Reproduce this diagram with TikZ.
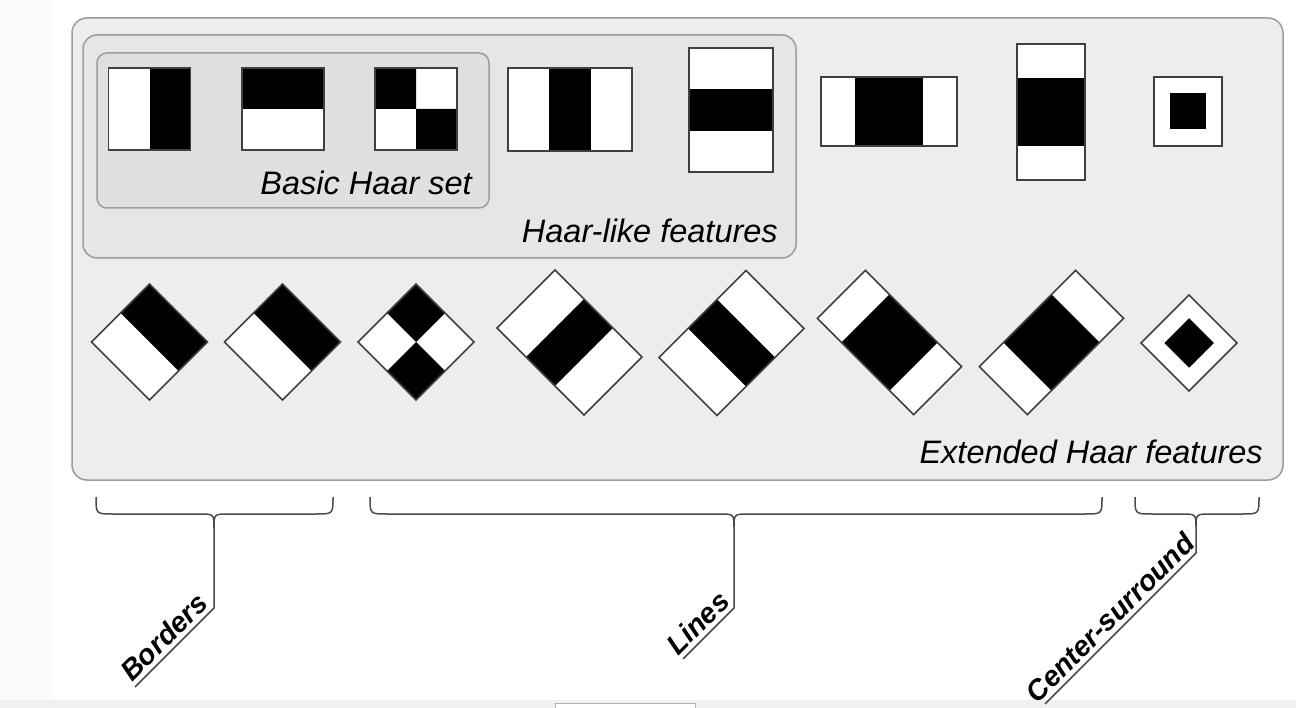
\documentclass[tikz,border=0pt]{standalone}
\usepackage{fontspec}
\setmainfont{Liberation Sans}
\definecolor{outerfill}{HTML}{EDEDED}
\definecolor{midfill}{HTML}{E6E6E6}
\definecolor{innerfill}{HTML}{E0E0E0}
\definecolor{panelline}{HTML}{9C9C9C}
\definecolor{featline}{HTML}{404040}
\definecolor{braceline}{HTML}{4A4A4A}
\tikzset{%
    feat/.style={draw=featline,line width=1.6pt},
    panel/.style={draw=panelline,line width=1.5pt,rounded corners=15pt}
}
% one feature: centre x, centre y, rotation, half width, half height, black part
\newcommand{\haar}[6]{%
    \begin{scope}[shift={(#1,#2)},rotate=#3]
        \fill[white] (-#4,-#5) rectangle (#4,#5);
        \fill[black] #6;
        \draw[feat] (-#4,-#5) rectangle (#4,#5);
    \end{scope}}

\begin{document}
\begin{tikzpicture}[
            x=1pt,y=-1pt,
            brace/.style={draw=braceline,line width=1.5pt},
            setlabel/.style={font=\fontsize{32.5}{39}\selectfont\itshape,inner sep=0pt},
            grplabel/.style={font=\fontsize{28.5}{34}\selectfont\bfseries\itshape,inner sep=4pt,anchor=south,rotate=45}
            ]
            \useasboundingbox (0,0) rectangle (1296,708);
            \fill[white] (0,0) rectangle (1296,708);
            \fill[black!2] (0,0) rectangle (53,700);
            \fill[black!6] (0,700) rectangle (1296,708);
            \draw[black!30,fill=white] (555,703) rectangle (695,712);

            % panels
            \draw[panel,fill=outerfill] (72,18) rectangle (1283,480);
            \draw[panel,fill=midfill,rounded corners=14pt] (83,35) rectangle (796,258);
            \draw[panel,fill=innerfill,rounded corners=10pt] (97,53) rectangle (489,208);
            \node[setlabel,anchor=base east] (basic) at (472,195) {Basic Haar set};
            \node[setlabel,anchor=base east] (haarlike) at (778,243) {Haar-like features};
            \node[setlabel,anchor=base east] (extended) at (1263,463) {Extended Haar features};

            % upright features
            \haar{149.5}{109}{0}{41}{41}{(0,-41) rectangle (41,41)}
            \haar{283}{109}{0}{41}{41}{(-41,-41) rectangle (41,0)}
            \haar{416}{109}{0}{41}{41}{(-41,-41) rectangle (0,0) (0,0) rectangle (41,41)}
            \haar{570}{109.5}{0}{62}{41.5}{(-20.7,-41.5) rectangle (20.7,41.5)}
            \haar{731}{110}{0}{42}{62}{(-42,-20.7) rectangle (42,20.7)}
            \haar{889}{111.5}{0}{68}{34.5}{(-34,-34.5) rectangle (34,34.5)}
            \haar{1051}{112}{0}{34}{68}{(-34,-34) rectangle (34,34)}
            \haar{1188}{111.5}{0}{34}{34.5}{(-18,-18) rectangle (18,18)}

            % rotated features
            \haar{149.5}{342}{45}{41}{41}{(0,-41) rectangle (41,41)}
            \haar{282.5}{342}{-45}{41}{41}{(-41,-41) rectangle (41,0)}
            \haar{416}{342}{-45}{41}{41}{(-41,-41) rectangle (0,0) (0,0) rectangle (41,41)}
            \haar{569.5}{342.5}{-45}{61.5}{41}{(-20.5,-41) rectangle (20.5,41)}
            \haar{731.5}{343}{45}{61.5}{41}{(-20.5,-41) rectangle (20.5,41)}
            \haar{889.5}{342.5}{-45}{68}{34}{(-34,-34) rectangle (34,34)}
            \haar{1051.5}{342.5}{45}{68}{34}{(-34,-34) rectangle (34,34)}
            \haar{1189}{343}{45}{34}{34}{(-17.5,-17.5) rectangle (17.5,17.5)}

            % braces
            \foreach \l/\c/\r/\n in {96/214/333/bord,370/734/1102/line,1135/1196/1259/cent}{
                \coordinate (\n C) at (\c,528);
                \draw[brace] (\l,497) .. controls (\l,514) .. (\l+17,514) -- (\c-15,514)
                    .. controls (\c,514) .. (\n C) .. controls (\c,514) .. (\c+15,514)
                    -- (\r-17,514) .. controls (\r,514) .. (\r,497);
            }
            \coordinate (bordS) at (214,608);
            \coordinate (bordT) at (135,687);
            \coordinate (lineS) at (734,608);
            \coordinate (lineT) at (683,659);
            \coordinate (centS) at (1196,553);
            \coordinate (centT) at (1045,704);
            \draw[brace] (bordC) -- (bordS) -- (bordT) node[grplabel,midway] (borders) {Borders};
            \draw[brace] (lineC) -- (lineS) -- (lineT) node[grplabel,midway] (lines) {Lines};
            \draw[brace] (centC) -- (centS) -- (centT) node[grplabel,midway] (centre) {Center-surround};
        \end{tikzpicture}
\end{document}
